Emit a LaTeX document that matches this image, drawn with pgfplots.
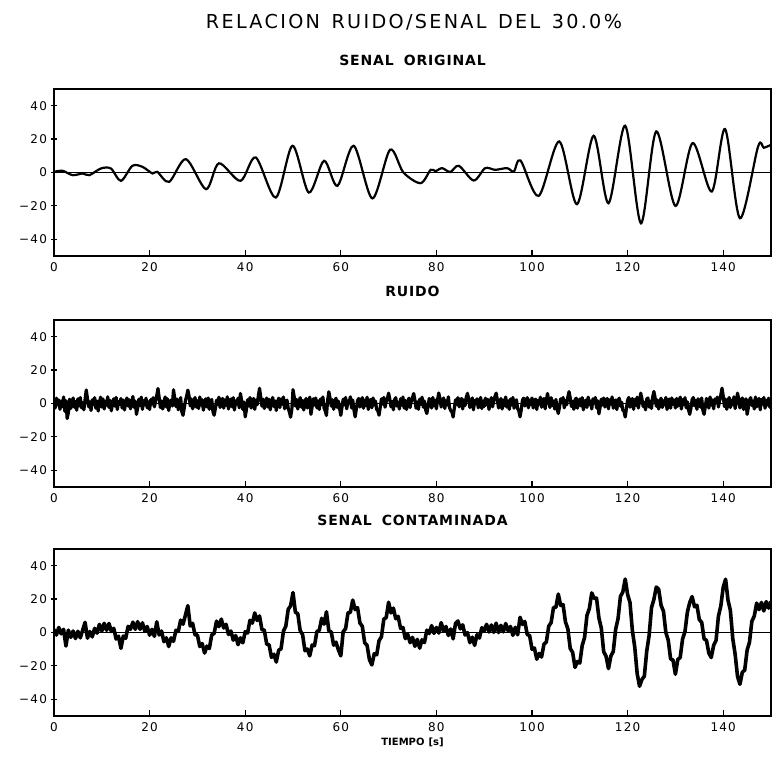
\documentclass[border=0pt]{standalone}
\usepackage{fontspec}
\setmainfont{DejaVu Sans}
\usepackage{pgfplots}
\pgfplotsset{compat=1.18}
\usepackage{pgfplotstable}

% noise samples, one every 0.25 s from 0 to 150 s
\pgfplotstableread{
n
0.8
-2.7
3.2
-0.9
2.1
-3.5
1.4
-1.8
3.9
-4.6
1.6
-9.0
-5.5
2.6
-3.0
0.6
3.3
-2.2
1.2
-4.0
2.8
-1.4
3.6
-2.6
0.4
-3.8
2.4
8.1
3.0
-2.0
1.0
-4.2
2.2
-0.6
3.5
-2.8
1.5
-4.5
0.9
3.8
-2.1
2.7
-3.3
1.4
-1.0
4.0
-2.4
1.8
-4.4
0.3
2.8
-1.6
3.6
-3.6
1.2
-0.4
3.0
-2.7
2.0
-3.9
0.9
3.3
-1.5
2.2
-3.2
0.6
4.2
-2.2
1.4
-6.5
-2.8
2.6
-1.2
3.8
-3.5
1.6
-0.8
3.2
-2.6
1.0
-3.6
2.4
-0.3
3.5
-2.0
1.2
4.8
9.0
3.6
-2.4
1.5
-3.3
0.8
3.9
-2.1
2.8
-4.2
0.4
2.1
-1.5
8.2
3.2
-1.8
2.6
-3.8
0.9
3.5
-5.1
-7.1
-2.7
1.8
4.4
8.0
4.6
-1.4
2.7
-3.2
0.6
3.6
-2.2
1.6
-3.0
3.9
-0.9
2.2
-4.0
0.3
2.8
-2.1
3.3
-3.5
1.4
2.4
-4.8
-7.0
-3.2
2.0
-0.6
3.8
-2.4
1.2
3.0
-2.8
2.1
-1.0
4.0
-3.3
0.8
2.7
-2.0
3.5
-3.9
1.5
-0.3
3.2
-2.6
6.0
1.8
-3.6
0.9
-8.0
-3.9
2.2
-1.4
3.6
-2.7
1.0
3.0
-3.5
2.0
-0.8
4.5
9.1
3.9
-1.6
2.6
-3.0
0.4
3.3
-2.1
2.4
-3.8
1.4
3.6
-1.8
1.5
-4.2
0.6
3.2
-2.4
2.7
-0.4
3.9
-3.2
1.2
2.0
-2.8
-5.2
-8.2
-3.6
8.3
4.0
-1.5
2.4
-3.3
0.8
3.5
-2.2
1.8
-3.9
1.4
3.0
-2.7
0.4
3.8
-6.5
-2.0
2.8
-0.9
3.3
-2.6
1.5
-3.6
2.7
-0.6
3.9
-2.8
-4.5
-7.2
2.1
7.0
3.3
-1.6
2.2
-3.5
1.0
3.2
-2.4
1.4
-3.0
-7.1
-2.2
2.6
-0.8
3.6
-3.2
1.6
0.4
4.0
-2.7
2.1
-3.9
-8.0
-3.3
1.8
3.0
-2.1
0.9
3.5
-2.8
2.0
-1.2
3.8
-3.6
1.4
2.4
-2.6
3.3
-0.9
1.5
-3.5
-4.4
-7.0
-2.4
2.8
-0.3
3.6
-2.2
1.0
3.0
6.2
2.7
-2.0
1.2
-3.8
2.2
3.5
-1.5
0.6
-3.3
2.8
-1.0
3.9
-2.7
1.8
-3.6
0.8
3.2
-2.4
1.5
3.5
6.0
2.1
-2.8
0.9
-3.5
2.6
-0.4
3.8
-2.2
1.5
-3.9
-6.0
-1.8
3.0
1.2
-2.7
3.6
-1.4
2.0
-3.2
2.4
6.3
2.8
-2.1
0.8
3.3
-3.0
1.6
-0.9
4.0
-2.6
-4.2
-5.1
-8.1
-2.8
2.2
-0.6
3.5
-2.0
1.4
3.0
-3.3
2.1
-1.2
3.8
6.1
2.6
-2.4
0.9
3.3
-3.8
1.8
-0.2
2.8
-2.6
1.2
3.6
-3.0
1.5
-1.8
3.2
-0.8
2.4
-3.6
1.0
3.5
-2.0
1.6
4.2
6.2
2.2
-2.7
0.6
3.0
-3.3
2.0
-1.4
3.9
-2.2
1.5
-3.5
2.7
-0.9
3.6
-2.8
1.2
2.2
-3.0
-4.6
-8.0
-3.8
2.0
3.2
-1.5
0.8
3.5
-2.6
2.1
-0.6
3.3
-2.7
1.4
2.6
-3.6
1.8
-0.4
3.8
-2.2
0.9
3.0
-3.2
2.1
6.0
1.6
-2.4
3.5
-1.2
1.5
-3.3
2.4
-3.0
-6.0
-2.1
2.8
0.4
3.6
-2.6
1.8
-0.8
3.9
7.1
3.3
-1.8
1.2
-3.5
2.2
3.2
-2.8
0.6
2.7
-1.5
3.5
-3.8
1.0
2.0
-2.4
3.8
-0.6
1.5
-3.3
2.8
0.3
3.6
-2.7
1.6
-6.2
-2.2
2.6
-0.9
3.3
-2.1
1.4
3.0
-3.2
2.2
-0.3
3.9
-2.8
1.2
2.1
-3.6
1.8
3.2
-1.6
0.8
-4.0
-4.8
-8.1
-3.0
2.0
3.6
-2.2
1.0
3.0
-3.5
2.4
-1.0
3.8
-2.7
1.5
6.2
2.8
-1.8
0.6
-3.8
2.6
3.3
-2.1
1.4
-3.0
3.9
7.2
3.5
-1.6
2.1
-3.3
0.9
3.2
-2.4
1.6
-0.8
3.6
-3.6
1.2
2.7
-2.8
3.3
-0.4
2.0
-2.7
3.0
-1.6
1.4
3.8
-3.3
2.2
-0.6
3.5
-2.6
1.0
-3.9
-6.5
-2.8
2.4
3.6
-1.4
1.8
-3.5
2.8
0.8
-2.2
3.3
-4.2
-6.5
-2.0
3.0
1.2
-2.8
3.9
-0.9
2.1
-3.2
2.7
0.4
3.8
-2.1
1.6
5.1
9.2
4.5
-1.8
2.6
-3.5
1.4
3.6
-2.4
2.0
-0.8
4.0
-3.0
0.9
6.2
2.4
-2.7
1.5
3.3
-3.6
0.6
2.8
-6.5
-2.6
2.1
3.5
-1.2
1.5
-3.3
3.9
-2.0
1.0
3.0
-3.8
2.4
-0.3
3.6
-2.8
1.8
-0.9
3.2
-2.2
1.5
}\noisetable

\pgfplotsset{
  panel/.style={
    scale only axis, width=358.5pt, height=83.5pt,
    anchor=south west,
    xmin=0, xmax=150, ymin=-50, ymax=50,
    xtick={0,20,40,60,80,100,120,140},
    ytick={-40,-20,0,20,40},
    yticklabels={−40,−20,0,20,40},
    tick pos=left, tick align=inside,
    major tick length=3pt,
    tick style={black, line width=0.6pt},
    y tick style={xshift=-1.5pt},
    axis line style={line width=0.8pt},
    /pgf/number format/assume math mode=true,
    ticklabel style={font=\fontsize{6}{7}\selectfont\addfontfeatures{LetterSpace=10}},
    title style={font=\bfseries\fontsize{7}{8}\selectfont\addfontfeatures{LetterSpace=6},
                 anchor=base, at={(0.5,1)}, yshift=5.5pt},
  },
}

\begin{document}
\begin{tikzpicture}
\path[use as bounding box] (0pt,0pt) rectangle (386pt,380pt);

\node[font=\fontsize{9.6}{11}\selectfont\addfontfeatures{LetterSpace=12}]
  at (207pt,369pt) {RELACION\hspace{0.6em}RUIDO/SENAL\hspace{0.6em}DEL\hspace{0.6em}30.0\%};

% original signal
\begin{axis}[panel, at={(27pt,252pt)}, title={SENAL\hspace{5pt}ORIGINAL}]
\addplot[line width=0.5pt] coordinates {(0,0) (150,0)};
\addplot[line width=1.1pt, smooth, tension=0.5] coordinates {
(0,0.4)(1.8,1.0)(3.9,-1.6)(6.0,-0.6)(7.4,-1.6)(9.8,2.4)(11.9,2.4)(14.0,-5.0)
(16.4,4.0)(18.5,3.4)(20.6,-0.6)(21.6,0.4)(24.1,-5.6)(27.6,8.0)(31.8,-10.0)
(34.5,5.5)(39.0,-5.0)(42.2,9.0)(46.4,-15.0)(49.9,16.0)(53.3,-12.0)(56.5,7.0)
(59.3,-8.0)(62.7,16.0)(66.6,-15.5)(70.3,13.6)(73.1,0.0)(76.7,-6.4)(78.8,1.6)
(79.8,0.8)(81.2,2.6)(82.9,0.3)(84.7,4.0)(87.8,-4.8)(90.2,2.6)(92.3,1.6)
(94.8,2.6)(96.2,0.6)(97.6,7.2)(101.4,-14.0)(105.7,18.6)(109.4,-19.0)
(112.9,22.0)(116.0,-18.4)(119.5,28.0)(122.8,-30.4)(126.0,24.6)(130.0,-20.0)
(133.6,17.6)(137.6,-11.4)(140.4,26.0)(143.5,-27.4)(147.3,15.6)(148.5,14.8)
(150,16.6)};
\end{axis}

% noise
\begin{axis}[panel, at={(27pt,136.5pt)}, title={RUIDO}]
\addplot[line width=0.5pt] coordinates {(0,0) (150,0)};
\addplot[line width=1.6pt, line join=round] table[x expr=\coordindex*0.25, y=n] {\noisetable};
\end{axis}

% contaminated signal
\begin{axis}[panel, at={(27pt,22pt)}, title={SENAL\hspace{5pt}CONTAMINADA},
  xlabel={TIEMPO\hspace{2pt}[s]},
  xlabel style={font=\bfseries\fontsize{5}{6}\selectfont, at={(0.5,0)}, anchor=center, yshift=-13pt}]
\addplot[line width=0.5pt] coordinates {(0,0) (150,0)};
\addplot[line width=1.8pt, line join=round] coordinates {
(0,1.9)(0.5,-1.5)(1,3.0)(1.5,-0.8)(2,1.9)(2.5,-8.1)(3,1.4)(3.5,-2.9)(4,0.9)(4.5,-3.6)
(5,0.7)(5.5,-3.2)(6,1.4)(6.5,6.1)(7,-3.4)(7.5,0.6)(8,-2.6)(8.5,2.5)(9,-0.4)(9.5,4.9)
(10,0.9)(10.5,5.5)(11,1.3)(11.5,5.4)(12,0.6)(12.5,2.5)(13,-3.9)(13.5,-2.2)(14,-9.5)(14.5,-2.1)
(15,-3.5)(15.5,3.7)(16,1.9)(16.5,6.2)(17,1.9)(17.5,6.5)(18,1.9)(18.5,5.8)(19,0.7)(19.5,3.6)
(20,-1.6)(20.5,1.9)(21,-2.3)(21.5,6.4)(22,-1.5)(22.5,0.9)(23,-5.5)(23.5,-3.2)(24,-8.4)(24.5,-3.2)
(25,-5.3)(25.5,1.3)(26,0.6)(26.5,7.4)(27,5.0)(27.5,10.5)(28,16.1)(28.5,3.9)(29,5.5)(29.5,-1.4)
(30,-1.5)(30.5,-8.4)(31,-6.6)(31.5,-12.3)(32,-8.2)(32.5,-9.6)(33,-1.4)(33.5,-0.6)(34,6.8)(34.5,3.5)
(35,8.0)(35.5,2.7)(36,4.9)(36.5,-1.2)(37,0.9)(37.5,-4.6)(38,-1.8)(38.5,-7.3)(39,-3.2)(39.5,-6.2)
(40,0.5)(40.5,-0.3)(41,7.3)(41.5,5.6)(42,11.7)(42.5,7.2)(43,9.9)(43.5,1.7)(44,1.4)(44.5,-7.0)
(45,-7.4)(45.5,-14.9)(46,-13.0)(46.5,-17.7)(47,-10.6)(47.5,-9.8)(48,0.8)(48.5,3.8)(49,13.9)(49.5,16.0)
(50,23.9)(50.5,12.1)(51,11.3)(51.5,1.1)(52,-1.2)(52.5,-10.9)(53,-9.9)(53.5,-14.0)(54,-7.5)(54.5,-7.9)
(55,0.6)(55.5,1.3)(56,8.5)(56.5,5.0)(57,12.4)(57.5,1.0)(58,0.3)(58.5,-7.6)(59,-5.8)(59.5,-10.4)
(60,-14.0)(60.5,0.6)(61,2.2)(61.5,11.7)(62,12.1)(62.5,19.4)(63,13.7)(63.5,14.9)(64,5.7)(64.5,3.7)
(65,-6.2)(65.5,-7.7)(66,-16.3)(66.5,-19.4)(67,-12.7)(67.5,-13.4)(68,-4.9)(68.5,-2.6)(69,8.0)(69.5,8.9)
(70,18.1)(70.5,11.7)(71,14.6)(71.5,8.2)(72,9.7)(72.5,2.5)(73,3.0)(73.5,-3.7)(74,-1.1)(74.5,-6.1)
(75,-2.9)(75.5,-8.3)(76,-4.1)(76.5,-9.4)(77,-4.4)(77.5,-6.0)(78,1.4)(78.5,-0.6)(79,4.1)(79.5,-0.5)
(80,3.0)(80.5,-0.3)(81,5.9)(81.5,0.8)(82,3.6)(82.5,-1.8)(83,2.1)(83.5,-3.8)(84,5.4)(84.5,6.9)
(85,2.2)(85.5,4.6)(86,-1.5)(86.5,-0.1)(87,-6.1)(87.5,-2.8)(88,-7.7)(88.5,-1.3)(89,-3.3)(89.5,2.9)
(90,1.0)(90.5,4.9)(91,0.3)(91.5,4.5)(92,0.1)(92.5,5.6)(93,0.0)(93.5,4.3)(94,0.4)(94.5,5.4)
(95,1.0)(95.5,3.6)(96,-1.7)(96.5,3.1)(97,-1.4)(97.5,9.1)(98,4.8)(98.5,6.6)(99,-1.2)(99.5,-1.8)
(100,-10.0)(100.5,-9.3)(101,-16.0)(101.5,-12.5)(102,-14.7)(102.5,-7.0)(103,-5.7)(103.5,3.8)(104,5.9)(104.5,15.0)
(105,15.0)(105.5,23.0)(106,16.2)(106.5,16.7)(107,6.3)(107.5,2.2)(108,-9.6)(108.5,-11.9)(109,-20.9)(109.5,-17.4)
(110,-18.3)(110.5,-7.8)(111,-3.0)(111.5,10.3)(112,14.3)(112.5,23.7)(113,20.4)(113.5,20.6)(114,8.7)(114.5,2.6)
(115,-11.5)(115.5,-14.3)(116,-21.6)(116.5,-14.1)(117,-11.4)(117.5,1.9)(118,8.3)(118.5,21.6)(119,24.2)(119.5,32.0)
(120,22.8)(120.5,17.9)(121,1.1)(121.5,-8.9)(122,-24.6)(122.5,-32.2)(123,-28.1)(123.5,-26.2)(124,-11.2)(124.5,-1.8)
(125,14.9)(125.5,19.8)(126,27.2)(126.5,25.9)(127,16.3)(127.5,12.8)(128,0.1)(128.5,-4.6)(129,-15.9)(129.5,-16.5)
(130,-25.0)(130.5,-16.2)(131,-15.0)(131.5,-3.9)(132,0.5)(132.5,12.1)(133,18.0)(133.5,21.5)(134,15.4)(134.5,16.3)
(135,7.7)(135.5,6.1)(136,-3.8)(136.5,-4.7)(137,-12.4)(137.5,-15.0)(138,-7.7)(138.5,-4.8)(139,9.7)(139.5,15.9)
(140,27.1)(140.5,31.9)(141,19.4)(141.5,13.2)(142,-3.6)(142.5,-13.1)(143,-26.4)(143.5,-31.0)(144,-23.8)(144.5,-22.5)
(145,-10.6)(145.5,-5.8)(146,6.8)(146.5,9.8)(147,17.6)(147.5,13.7)(148,18.0)(148.5,12.9)(149,18.5)(149.5,14.6)
(150,18.6)};
\end{axis}
\end{tikzpicture}
\end{document}
